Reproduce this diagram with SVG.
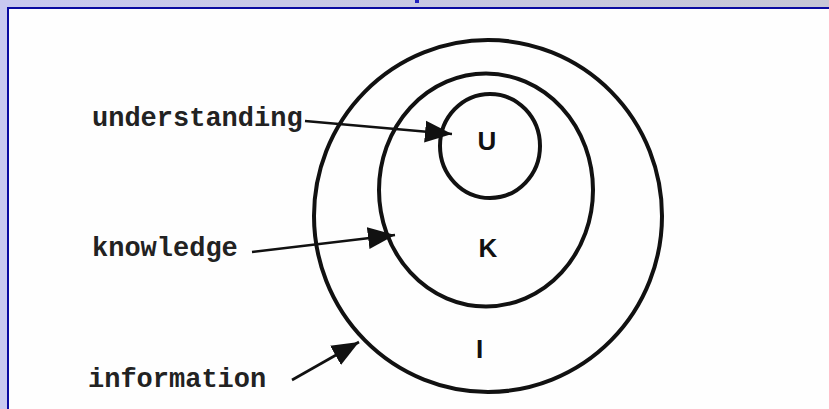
<svg xmlns="http://www.w3.org/2000/svg" width="829" height="409" viewBox="0 0 829 409">
  <defs>
    <linearGradient id="bg" x1="0" y1="0" x2="1" y2="0">
      <stop offset="0" stop-color="#c9c9f0"/>
      <stop offset="1" stop-color="#c6c6d6"/>
    </linearGradient>
    <marker id="ah" markerUnits="userSpaceOnUse" markerWidth="28" markerHeight="24" viewBox="0 0 28 24" refX="27" refY="12" orient="auto">
      <path d="M0,1 L27,12 L0,23 Z" fill="#111"/>
    </marker>
    <style>
      .ring { fill: none; stroke: #111; stroke-width: 4; }
      .lbl { font-family: "Liberation Mono", "Courier New", monospace; font-size: 27px; font-weight: bold; fill: #222; }
      .set { font-family: "Liberation Sans", Arial, sans-serif; font-size: 26px; font-weight: bold; fill: #111; text-anchor: middle; }
      .conn { stroke: #111; stroke-width: 2.6; fill: none; marker-end: url(#ah); }
    </style>
  </defs>
  <rect x="0" y="0" width="829" height="409" fill="url(#bg)"/>
  <rect x="415" y="0" width="4" height="3" fill="#2020c0"/>
  <rect x="8" y="8" width="821" height="401" fill="#fefefe" stroke="#0a0aa0" stroke-width="2"/>
  <rect x="9" y="9" width="820" height="400" fill="#fefefe"/>

  <g id="information">
    <ellipse class="ring" cx="488" cy="216" rx="174" ry="176"/>
    <text class="set" x="479.5" y="358">I</text>
  </g>
  <g id="knowledge">
    <ellipse class="ring" cx="486" cy="190" rx="107" ry="116.5"/>
    <text class="set" x="488" y="257">K</text>
  </g>
  <g id="understanding">
    <ellipse class="ring" cx="490" cy="146" rx="50" ry="52"/>
    <text class="set" x="487" y="150">U</text>
  </g>

  <g id="label-understanding"><text class="lbl" x="92" y="126">understanding</text></g>
  <g id="label-knowledge"><text class="lbl" x="92" y="256">knowledge</text></g>
  <g id="label-information"><text class="lbl" x="88" y="387">information</text></g>

  <g id="connectors">
    <line class="conn" x1="305" y1="121" x2="452" y2="134"/>
    <line class="conn" x1="252" y1="252" x2="395" y2="235"/>
    <line class="conn" x1="292" y1="380" x2="359" y2="342"/>
  </g>
</svg>
